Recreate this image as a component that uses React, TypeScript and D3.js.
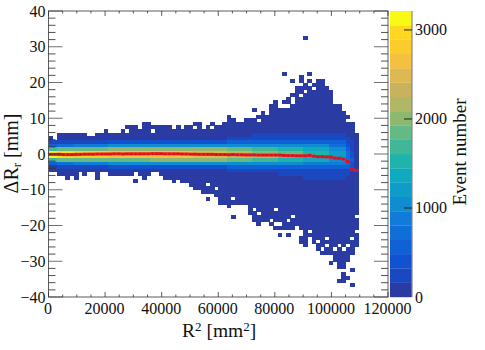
import React from 'react';
import * as d3 from 'd3';

// 2D histogram: 1500 mm2 wide x bins, 1 mm tall y bins
const binWidth = 1500;
const rowHeight = 1;

// upper and lower edge of the filled region, one per x bin (mm)
const topEdge = [
  5, 4, 6, 6, 6, 6, 6, 6, 6, 5, 5, 6, 6, 7, 6, 6, 6, 7, 8, 8, 8, 7, 9, 9, 8, 8, 8, 8, 8, 7, 8, 7, 8, 8, 9, 9, 7,
  8, 9, 8, 8, 9, 11, 10, 9, 9, 10, 10, 10, 11, 12, 11, 14, 15, 13, 13, 13, 17, 19, 19, 20, 19, 20, 21, 21, 19, 18,
  14, 14, 12, 11, 9, 6,
];
const bottomEdge = [
  -5, -5, -6, -6, -7, -6, -7, -5, -6, -5, -5, -7, -5, -5, -6, -6, -6, -6, -6, -6, -5, -6, -7, -6, -5, -5, -6, -7,
  -7, -8, -7, -8, -8, -9, -10, -10, -11, -11, -11, -12, -14, -14, -15, -14, -14, -14, -14, -17, -19, -20, -19, -19,
  -20, -21, -21, -21, -21, -21, -20, -25, -26, -23, -25, -27, -28, -28, -28, -30, -32, -32, -30, -28, -26,
];
// [x bin, row] cells outside the edges, and empty cells inside them
const strayCells = [
  [48, 12], [55, 14], [56, 14], [56, 15], [57, 20], [55, 22], [61, 22], [59, 20], [59, 21], [61, 20], [60, 32],
  [20, -8], [37, -13], [43, -18], [54, -23], [56, -23], [66, -31], [71, -33], [69, -34], [69, -35], [70, -35],
  [68, -36], [69, -36], [71, -37],
];
const emptyCells = [
  [18, 6], [24, 6], [34, 7], [38, 7], [49, 9], [70, 9], [57, 14], [57, 15], [59, 16], [60, 17], [62, 18],
  [37, -9], [39, -10], [43, -13], [48, -16], [49, -17], [53, -16], [52, -19], [53, -20], [54, -20], [56, -19],
  [57, -18], [59, -22], [59, -23], [61, -22], [63, -25], [65, -24], [65, -26], [64, -27], [67, -27], [68, -26],
  [69, -27], [70, -26], [71, -24], [72, -22], [72, -18],
];

// core of the distribution, event counts read per block of x bins
const coreRows = [5, 4, 3, 2, 1, 0, -1, -2, -3, -4, -5, -6, -7];
const coreBlockEnds = [1, 5, 13, 23, 33, 41, 47, 53, 59, 65, 69, 70, 71, 72];
const coreCounts = [
  [60, 80, 180, 500, 1700, 3150, 3150, 1700, 500, 150, 100, 40, 30],
  [60, 90, 250, 700, 1800, 3000, 3000, 1800, 650, 230, 100, 40, 30],
  [70, 100, 300, 900, 1900, 2750, 2750, 1900, 850, 300, 100, 50, 30],
  [80, 120, 400, 1000, 1950, 2650, 2650, 1900, 1000, 400, 120, 60, 30],
  [80, 130, 450, 1050, 2000, 2600, 2600, 2000, 1050, 450, 150, 60, 30],
  [90, 140, 480, 1050, 1950, 2500, 2500, 1950, 1050, 480, 150, 70, 30],
  [100, 170, 500, 1050, 1850, 2300, 2300, 1850, 1050, 500, 170, 80, 40],
  [170, 250, 550, 1050, 1700, 2050, 2100, 1700, 1050, 550, 200, 100, 50],
  [180, 300, 600, 1050, 1550, 1800, 1800, 1550, 1000, 600, 300, 170, 100],
  [180, 320, 600, 1000, 1350, 1500, 1500, 1300, 950, 600, 320, 180, 170],
  [170, 300, 500, 800, 1050, 1200, 1200, 1100, 850, 550, 300, 180, 170],
  [120, 200, 300, 450, 600, 700, 800, 750, 650, 500, 300, 170, 120],
  [100, 100, 170, 200, 300, 400, 450, 500, 450, 350, 200, 120, 100],
  [50, 60, 60, 100, 120, 150, 150, 150, 150, 150, 120, 100, 60],
];

// profile mean per x bin (mm)
const profileMean = [
  -0.1, -0.1, -0.1, -0.15, -0.15, -0.15, -0.1, -0.1, -0.05, -0.05, -0.05, 0, 0, 0, 0, 0.05, 0.05, 0, 0.05, 0.05,
  0.05, 0.05, 0.05, 0.05, 0.1, 0.1, 0.1, 0.05, 0.05, 0.05, 0.05, 0, 0, -0.05, -0.05, -0.1, -0.1, -0.1, -0.1, -0.15,
  -0.15, -0.15, -0.2, -0.15, -0.2, -0.2, -0.25, -0.25, -0.25, -0.3, -0.3, -0.3, -0.3, -0.3, -0.3, -0.4, -0.45, -0.45,
  -0.5, -0.5, -0.5, -0.4, -0.6, -0.75, -0.75, -0.8, -0.85, -1.15, -1.2, -1.4, -2.1, -4.2, -4.6,
];

const bandColors = [
  '#2a3ca4', '#1a48c0', '#1052d0', '#1060d8', '#106ed8', '#107cd8', '#108cd0', '#109cc8', '#10aac0', '#1eb4ac',
  '#40b898', '#64ba84', '#8cb870', '#b0b868', '#c8b25e', '#deb850', '#f4c040', '#fccc2c', '#fed820', '#f8fa14',
];

const xTicks = [0, 20000, 40000, 60000, 80000, 100000, 120000];
const yTicks = [-40, -30, -20, -10, 0, 10, 20, 30, 40];
const zTicks = [0, 1000, 2000, 3000];
const zMax = 3213;

const labelFont = "'Liberation Serif', 'Times New Roman', serif";
const minusFmt = (v: number) => (v < 0 ? `\u2212${-v}` : `${v}`);

export default function App() {
  const x = d3.scaleLinear().domain([0, 120000]).range([48.5, 388]);
  const y = d3.scaleLinear().domain([-40, 40]).range([297, 11]);
  const z = d3.scaleLinear().domain([0, zMax]).range([297, 11]);
  const color = d3.scaleQuantize<string>().domain([0, zMax]).range(bandColors);

  const key = (c: number[]) => `${c[0]}:${c[1]}`;
  const empties = new Set(emptyCells.map(key));

  const cells: { bin: number; row: number; count: number }[] = [];
  topEdge.forEach((top, bin) => {
    const block = coreBlockEnds.findIndex(e => bin <= e);
    for (let row = bottomEdge[bin]; row < top; row++) {
      if (empties.has(key([bin, row]))) continue;
      const idx = coreRows.indexOf(row);
      cells.push({ bin, row, count: idx >= 0 ? coreCounts[block][idx] : 30 });
    }
  });
  strayCells.forEach(([bin, row]) => cells.push({ bin, row, count: 10 }));

  const bandStep = zMax / bandColors.length;

  const yMinor = d3.range(-40, 41, 2);
  const xMinor = d3.range(0, 120001, 5000);
  const axisColor = '#333';

  return (
    <svg
      width={485}
      height={350}
      style={{ position: 'absolute', left: 0, top: 0, background: '#fff' }}
      fontFamily={labelFont}
    >
      {/* histogram cells, drawn with crisp edges so no seams show between them */}
      <g shapeRendering="crispEdges">
        {cells.map(c => (
          <rect
            key={`${c.bin}:${c.row}`}
            x={x(c.bin * binWidth)}
            y={y(c.row + rowHeight)}
            width={x(binWidth) - x(0) + 0.5}
            height={y(0) - y(rowHeight) + 0.5}
            fill={color(c.count)}
          />
        ))}
      </g>

      {/* profile */}
      {profileMean.map((m, i) => (
        <g key={i}>
          <rect
            x={x(i * binWidth)}
            y={y(m) - 1.5}
            width={x(binWidth) - x(0) + 0.2}
            height={3}
            fill="#ea1420"
          />
          <rect
            x={x((i + 0.5) * binWidth) - 0.6}
            y={y(m) - 0.6}
            width={1.2}
            height={1.2}
            fill="#9a1a20"
          />
        </g>
      ))}

      {/* frame and ticks */}
      <rect x={48.5} y={11} width={339.5} height={286} fill="none" stroke={axisColor} strokeOpacity={0.8} />
      {yMinor.map(v => {
        const len = v % 10 === 0 ? 14 : 7;
        return (
          <g key={v} stroke={axisColor} strokeOpacity={v % 10 === 0 ? 0.7 : 0.85}>
            <line x1={48.5} x2={48.5 + len} y1={y(v)} y2={y(v)} />
            <line x1={388} x2={388 - len} y1={y(v)} y2={y(v)} />
          </g>
        );
      })}
      {xMinor.map(v => {
        const len = v % 20000 === 0 ? 5 : 2.5;
        return (
          <g key={v} stroke={axisColor} strokeOpacity={0.8}>
            <line x1={x(v)} x2={x(v)} y1={297} y2={297 - len} />
            <line x1={x(v)} x2={x(v)} y1={11} y2={11 + len} />
          </g>
        );
      })}
      {yTicks.map(v => (
        <text key={v} x={45.5} y={y(v) + 5.5} textAnchor="end" fontSize={16} fill="#111">
          {minusFmt(v)}
        </text>
      ))}
      {xTicks.map(v => (
        <text key={v} x={x(v) - 0.5} y={313.5} textAnchor="middle" fontSize={16} fill="#111">
          {v}
        </text>
      ))}

      {/* axis titles */}
      <text x={182} y={337} fontSize={19.5} fill="#111">
        R<tspan dy={-6} fontSize={13}>2</tspan>
        <tspan dy={6}> [mm</tspan>
        <tspan dy={-6} fontSize={13}>2</tspan>
        <tspan dy={6}>]</tspan>
      </text>
      <text transform="translate(18,153.5) rotate(-90)" textAnchor="middle" fontSize={20} fill="#111">
        {'\u0394R'}
        <tspan dy={3} fontSize={13}>r</tspan>
        <tspan dy={-3}> [mm]</tspan>
      </text>

      {/* colour bar */}
      {bandColors.map((c, i) => (
        <rect
          key={c}
          x={390}
          y={z((i + 1) * bandStep)}
          width={22}
          height={z(0) - z(bandStep) + 0.2}
          fill={c}
        />
      ))}
      <line x1={412} x2={412} y1={11} y2={297} stroke="#888" strokeWidth={1.2} />
      {zTicks.map(v => (
        <g key={v}>
          {v > 0 && <line x1={404} x2={412} y1={z(v)} y2={z(v)} stroke="#222" />}
          <text x={415} y={z(v) + 5.5} fontSize={16} fill="#111">
            {v}
          </text>
        </g>
      ))}
      <text transform="translate(466,152) rotate(-90)" textAnchor="middle" fontSize={19} fill="#111">
        Event number
      </text>
    </svg>
  );
}
